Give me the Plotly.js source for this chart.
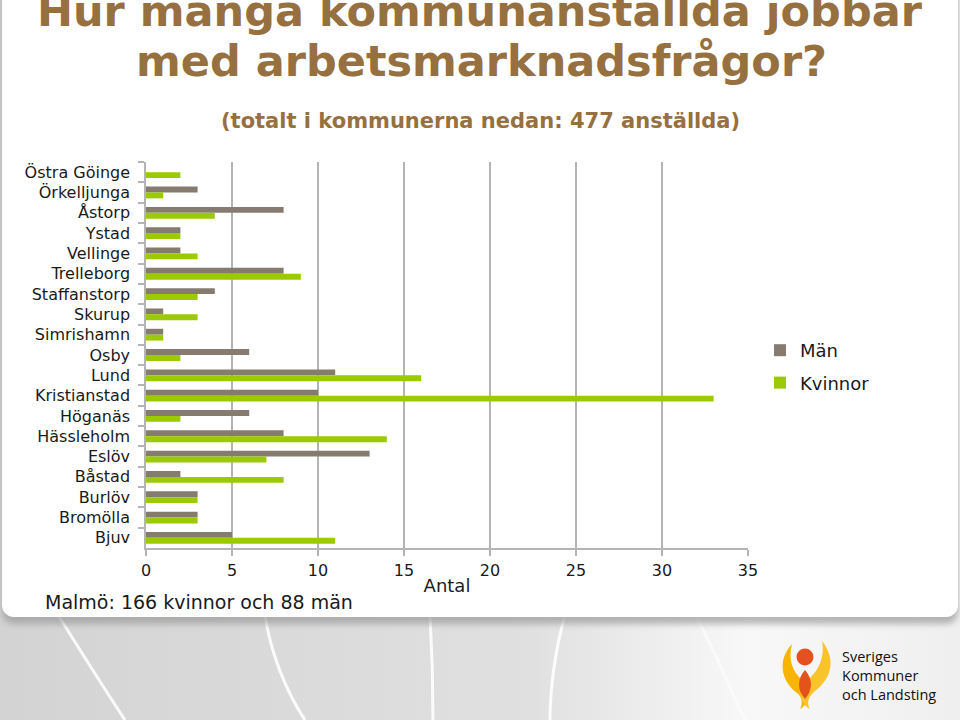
<!DOCTYPE html>
<html>
<head>
<meta charset="utf-8">
<script src="https://cdn.plot.ly/plotly-3.0.1.min.js"></script>
<style>html,body{margin:0;padding:0;background:#fff;}#chart{width:960px;height:720px;}</style>
</head>
<body>
<div id="chart"></div>
<script>
// ---- data (top-to-bottom order as in the reference) ----
const municipalities = ['Östra Göinge','Örkelljunga','Åstorp','Ystad','Vellinge','Trelleborg','Staffanstorp','Skurup','Simrishamn','Osby','Lund','Kristianstad','Höganäs','Hässleholm','Eslöv','Båstad','Burlöv','Bromölla','Bjuv'];
const men   = [0,3,8,2,2,8,4,1,1,6,11,10,6,8,13,2,3,3,5];
const women = [2,1,4,2,3,9,3,3,1,2,16,33,2,14,7,8,3,3,11];
const xTickValues = [0,5,10,15,20,25,30,35];
const seriesNames = ['Män','Kvinnor'];
const titleLines = ['Hur många kommunanställda jobbar','med arbetsmarknadsfrågor?'];
const subtitleText = '(totalt i kommunerna nedan: 477 anställda)';
const noteText = 'Malmö: 166 kvinnor och 88 män';
const axisTitle = 'Antal';
const logoLines = ['Sveriges','Kommuner','och Landsting'];

// ---- layout geometry ----
const W = 960, H = 720;
const M = {l:146, r:212, t:162, b:172};
const PW = W - M.l - M.r, PH = H - M.t - M.b;
const px = x => (x - M.l) / PW;
const py = y => (H - M.b - y) / PH;

const FONT = 'DejaVu Sans, Verdana, sans-serif';
const BROWN = '#97703f';
const GRID = '#b4b4b4';

// background decoration (slide frame, gray band with curves, logo mark)
const bgSvg = `<svg xmlns="http://www.w3.org/2000/svg" width="960" height="720" viewBox="0 0 960 720">
<defs>
<linearGradient id="g" x1="0" y1="0" x2="1" y2="0">
<stop offset="0" stop-color="#d3d3d3"/><stop offset="0.55" stop-color="#e0e0e0"/>
<stop offset="0.78" stop-color="#f8f8f8"/><stop offset="1" stop-color="#efefef"/>
</linearGradient>
<filter id="s" x="-5%" y="-5%" width="110%" height="115%"><feGaussianBlur stdDeviation="3"/></filter>
</defs>
<rect x="0" y="0" width="960" height="720" fill="url(#g)"/>
<g fill="none" stroke="#ffffff" stroke-width="3" opacity="0.9">
<path d="M58,615 C80,650 105,690 125,720"/>
<path d="M265,615 C270,650 285,690 305,720"/>
<path d="M430,615 C432,650 433,690 433,720"/>
<path d="M565,615 C555,650 550,690 550,720"/>
<path d="M695,615 C715,650 730,690 745,720" opacity="0.6"/>
</g>
<rect x="2" y="-40" width="956" height="664" rx="12" fill="#9a9a9a" filter="url(#s)" opacity="0.7"/>
<rect x="2" y="-40" width="956" height="657" rx="12" fill="#ffffff"/>
<g>
<path d="M792,644 C777,660 781,681 797,693 C802,697 803,703 800,709 C813,701 811,688 802,680 C792,671 788,659 792,644 Z" fill="#f7b500"/>
<path d="M822,641 C837,660 831,679 815,691 C809,696 806,702 810,709 C797,701 799,688 808,680 C819,670 825,657 822,641 Z" fill="#f9c42b"/>
<path d="M805,670 C813,679 813,690 805,699 C797,690 797,679 805,670 Z" fill="#e4531c"/>
<circle cx="805" cy="657" r="8.5" fill="#e4501e"/>
</g>
</svg>`;
const bgUri = 'data:image/svg+xml;charset=utf-8,' + encodeURIComponent(bgSvg);

const traces = [
  {type:'bar', orientation:'h', name:seriesNames[0], y:municipalities, x:men,
   marker:{color:'#857b6f'}, legendgroup:'m', hoverinfo:'x+y'},
  {type:'bar', orientation:'h', name:seriesNames[1], y:municipalities, x:women,
   marker:{color:'#9bca00'}, legendgroup:'k', hoverinfo:'x+y'}
];

const ann = (text, x, y, size, opts) => Object.assign({
  text, xref:'paper', yref:'paper', x:px(x), y:py(y), showarrow:false,
  xanchor:'center', yanchor:'middle', font:{family:FONT, size, color:'#1a1a1a'}
}, opts || {});

const layout = {
  width:W, height:H, margin:M,
  paper_bgcolor:'#ffffff', plot_bgcolor:'rgba(0,0,0,0)',
  barmode:'group', bargap:0.42, bargroupgap:0,
  font:{family:FONT, color:'#1a1a1a'},
  showlegend:true,
  legend:{x:px(760), y:py(332), xanchor:'left', yanchor:'top', traceorder:'grouped',
          tracegroupgap:6, font:{family:FONT, size:18, color:'#1a1a1a'}, bgcolor:'rgba(0,0,0,0)'},
  xaxis:{range:[0,35], tickvals:xTickValues, ticktext:xTickValues.map(String),
         showgrid:true, gridcolor:GRID, gridwidth:1.5, zeroline:false,
         showline:true, linecolor:GRID, linewidth:1.5,
         ticks:'outside', ticklen:6, tickcolor:GRID, tickwidth:1.5, ticklabelstandoff:1,
         tickfont:{family:FONT, size:16, color:'#1a1a1a'},
         title:{text:axisTitle, standoff:0, font:{family:FONT, size:18, color:'#1a1a1a'}},
         fixedrange:true},
  yaxis:{type:'category', autorange:'reversed', showgrid:false, zeroline:false,
         showline:true, linecolor:GRID, linewidth:1.5,
         ticks:'outside', tickson:'boundaries', ticklen:6, tickcolor:GRID, tickwidth:1.5,
         ticklabelstandoff:11,
         tickfont:{family:FONT, size:16, color:'#1a1a1a'}, fixedrange:true},
  images:[{source:bgUri, xref:'paper', yref:'paper', x:px(0), y:py(0),
           sizex:W/PW, sizey:H/PH, xanchor:'left', yanchor:'top', sizing:'stretch', layer:'below'}],
  annotations:[
    ann(titleLines[0], 480, 11, 43, {font:{family:FONT, size:43, color:BROWN, weight:'bold'}}),
    ann(titleLines[1], 481, 61, 43, {font:{family:FONT, size:43, color:BROWN, weight:'bold'}}),
    ann(subtitleText, 480, 121, 21, {font:{family:FONT, size:21, color:BROWN, weight:'bold'}}),
    ann(noteText, 43, 602, 19, {xanchor:'left'}),
    ann(logoLines.join('<br>'), 840, 675, 14.5, {xanchor:'left', align:'left',
        font:{family:'Open Sans, Noto Sans, sans-serif', size:14.5, color:'#111'}})
  ]
};

Plotly.newPlot('chart', traces, layout, {displayModeBar:false, staticPlot:false});
</script>
</body>
</html>
